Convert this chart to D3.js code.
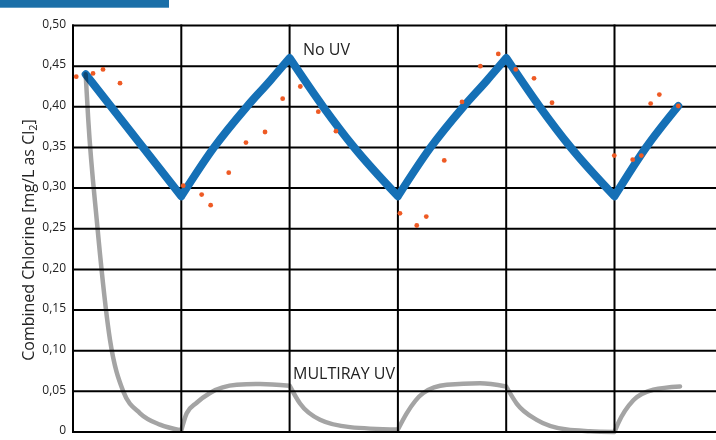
<!DOCTYPE html>
<html><head><meta charset="utf-8">
<script src="https://cdn.jsdelivr.net/npm/d3@7"></script>
<style>body{margin:0;background:#fff}svg{display:block}</style>
</head><body><svg id="chart" width="716" height="440"></svg>
<script>
// ---- data ----
const yTickValues = [0, 0.05, 0.10, 0.15, 0.20, 0.25, 0.30, 0.35, 0.40, 0.45, 0.50];
const yTickLabels = ["0", "0,05", "0,10", "0,15", "0,20", "0,25", "0,30", "0,35", "0,40", "0,45", "0,50"];
const xGridValues = [1, 2, 3, 4, 5];
const segmentBreaks = [1, 2, 3, 4, 5];

const noUvX = [0.117, 1, 1.296, 1.604, 1.819, 2, 2.31, 2.59, 3, 3.296, 3.604, 3.819, 4, 4.31, 4.59, 5, 5.297, 5.589];
const noUvY = [0.440, 0.290, 0.349, 0.400, 0.432, 0.460, 0.400, 0.351, 0.290, 0.349, 0.400, 0.432, 0.460, 0.400, 0.351, 0.290, 0.351, 0.401];

const multirayX = [0.117, 0.141, 0.219, 0.342, 0.464, 0.619, 0.803, 1, 1.05, 1.142, 1.265, 1.512, 1.727, 2, 2.096, 2.281, 2.558, 3, 3.081, 3.235, 3.451, 3.758, 4, 4.097, 4.282, 4.559, 4.774, 5, 5.035, 5.174, 5.358, 5.605];
const multirayY = [0.440, 0.384, 0.261, 0.113, 0.050, 0.023, 0.009, 0.002, 0.023, 0.036, 0.048, 0.058, 0.059, 0.057, 0.035, 0.015, 0.006, 0.003, 0.023, 0.048, 0.058, 0.060, 0.056, 0.035, 0.015, 0.003, 0.001, 0.000, 0.011, 0.039, 0.052, 0.056];

const measuredX = [0.030, 0.185, 0.277, 0.434, 1.018, 1.188, 1.271, 1.438, 1.597, 1.773, 1.936, 2.099, 2.265, 2.428, 3.019, 3.174, 3.262, 3.428, 3.592, 3.761, 3.927, 4.088, 4.257, 4.423, 4.998, 5.168, 5.248, 5.334, 5.414, 5.589];
const measuredY = [0.437, 0.441, 0.446, 0.429, 0.303, 0.292, 0.279, 0.319, 0.356, 0.369, 0.410, 0.425, 0.394, 0.370, 0.269, 0.254, 0.265, 0.334, 0.406, 0.450, 0.465, 0.446, 0.435, 0.405, 0.340, 0.335, 0.340, 0.404, 0.415, 0.401];

const yAxisTitle = "Combined Chlorine [mg/L as Cl";
const noUvLabel = "No UV";
const multirayLabel = "MULTIRAY UV";

// ---- layout ----
const plotLeft = 73, plotRight = 716, plotTop = 25.5, plotBottom = 432;
const xMax = (plotRight - plotLeft) / 108.3;

const svg = d3.select("#chart");
const x = d3.scaleLinear().domain([0, xMax]).range([plotLeft, plotRight]);
const y = d3.scaleLinear().domain([0, 0.5]).range([plotBottom, plotTop]);

const FONT = "'Open Sans', 'Noto Sans', sans-serif";

// top bar
svg.append("rect").attr("x", 0).attr("y", 0).attr("width", 169).attr("height", 7.7).attr("fill", "#1b6fa8");

// grid
const grid = svg.append("g").attr("stroke", "#000").attr("stroke-width", 2);
grid.selectAll("line.h").data(yTickValues).join("line").attr("class", "h")
  .attr("x1", plotLeft - 1).attr("x2", plotRight).attr("y1", d => y(d)).attr("y2", d => y(d));
grid.selectAll("line.v").data([0].concat(xGridValues)).join("line").attr("class", "v")
  .attr("x1", d => x(d)).attr("x2", d => x(d)).attr("y1", plotTop - 1).attr("y2", plotBottom + 1);

// y tick labels
svg.append("g").selectAll("text").data(yTickValues).join("text")
  .attr("x", 66).attr("y", d => y(d) - 1).attr("text-anchor", "end").attr("dominant-baseline", "middle")
  .attr("font-family", FONT).attr("font-size", 12).attr("fill", "#222")
  .text((d, i) => yTickLabels[i]);

// y axis title
const t = svg.append("text").attr("transform", "translate(34,240) rotate(-90)")
  .attr("text-anchor", "middle").attr("font-family", FONT).attr("font-size", 16).attr("fill", "#222");
t.append("tspan").text(yAxisTitle);
t.append("tspan").attr("font-size", 11).attr("dy", 3).text("2");
t.append("tspan").attr("dy", -3).text("]");

// helper: piecewise smooth path with sharp corners at segment breaks
function buildPath(xs, ys) {
  const pts = xs.map((v, i) => [x(v), y(ys[i])]);
  const segs = [];
  let cur = [];
  xs.forEach((v, i) => {
    cur.push(pts[i]);
    if (segmentBreaks.includes(v) && cur.length > 1) { segs.push(cur); cur = [pts[i]]; }
  });
  if (cur.length > 1) segs.push(cur);
  const gen = d3.line().curve(d3.curveMonotoneX);
  return segs.map((s, i) => { const d = gen(s); return i === 0 ? d : "L" + d.slice(1); }).join("");
}

// No UV line
svg.append("path").attr("d", buildPath(noUvX, noUvY))
  .attr("fill", "none").attr("stroke", "#1570b6").attr("stroke-width", 8)
  .attr("stroke-linecap", "round").attr("stroke-linejoin", "round");

// MULTIRAY line
svg.append("path").attr("d", buildPath(multirayX, multirayY))
  .attr("fill", "none").attr("stroke", "#a4a4a4").attr("stroke-width", 4.5)
  .attr("stroke-linecap", "round").attr("stroke-linejoin", "round")
  .style("mix-blend-mode", "multiply");

// measured dots
svg.append("g").selectAll("circle").data(measuredX).join("circle")
  .attr("cx", d => x(d)).attr("cy", (d, i) => y(measuredY[i])).attr("r", 2.4).attr("fill", "#ee5a24");

// labels
svg.append("text").attr("x", 303).attr("y", 55).attr("font-family", FONT).attr("font-size", 16).attr("fill", "#222").text(noUvLabel);
svg.append("text").attr("x", 293).attr("y", 379).attr("font-family", FONT).attr("font-size", 16).attr("fill", "#222").text(multirayLabel);
</script></body></html>
